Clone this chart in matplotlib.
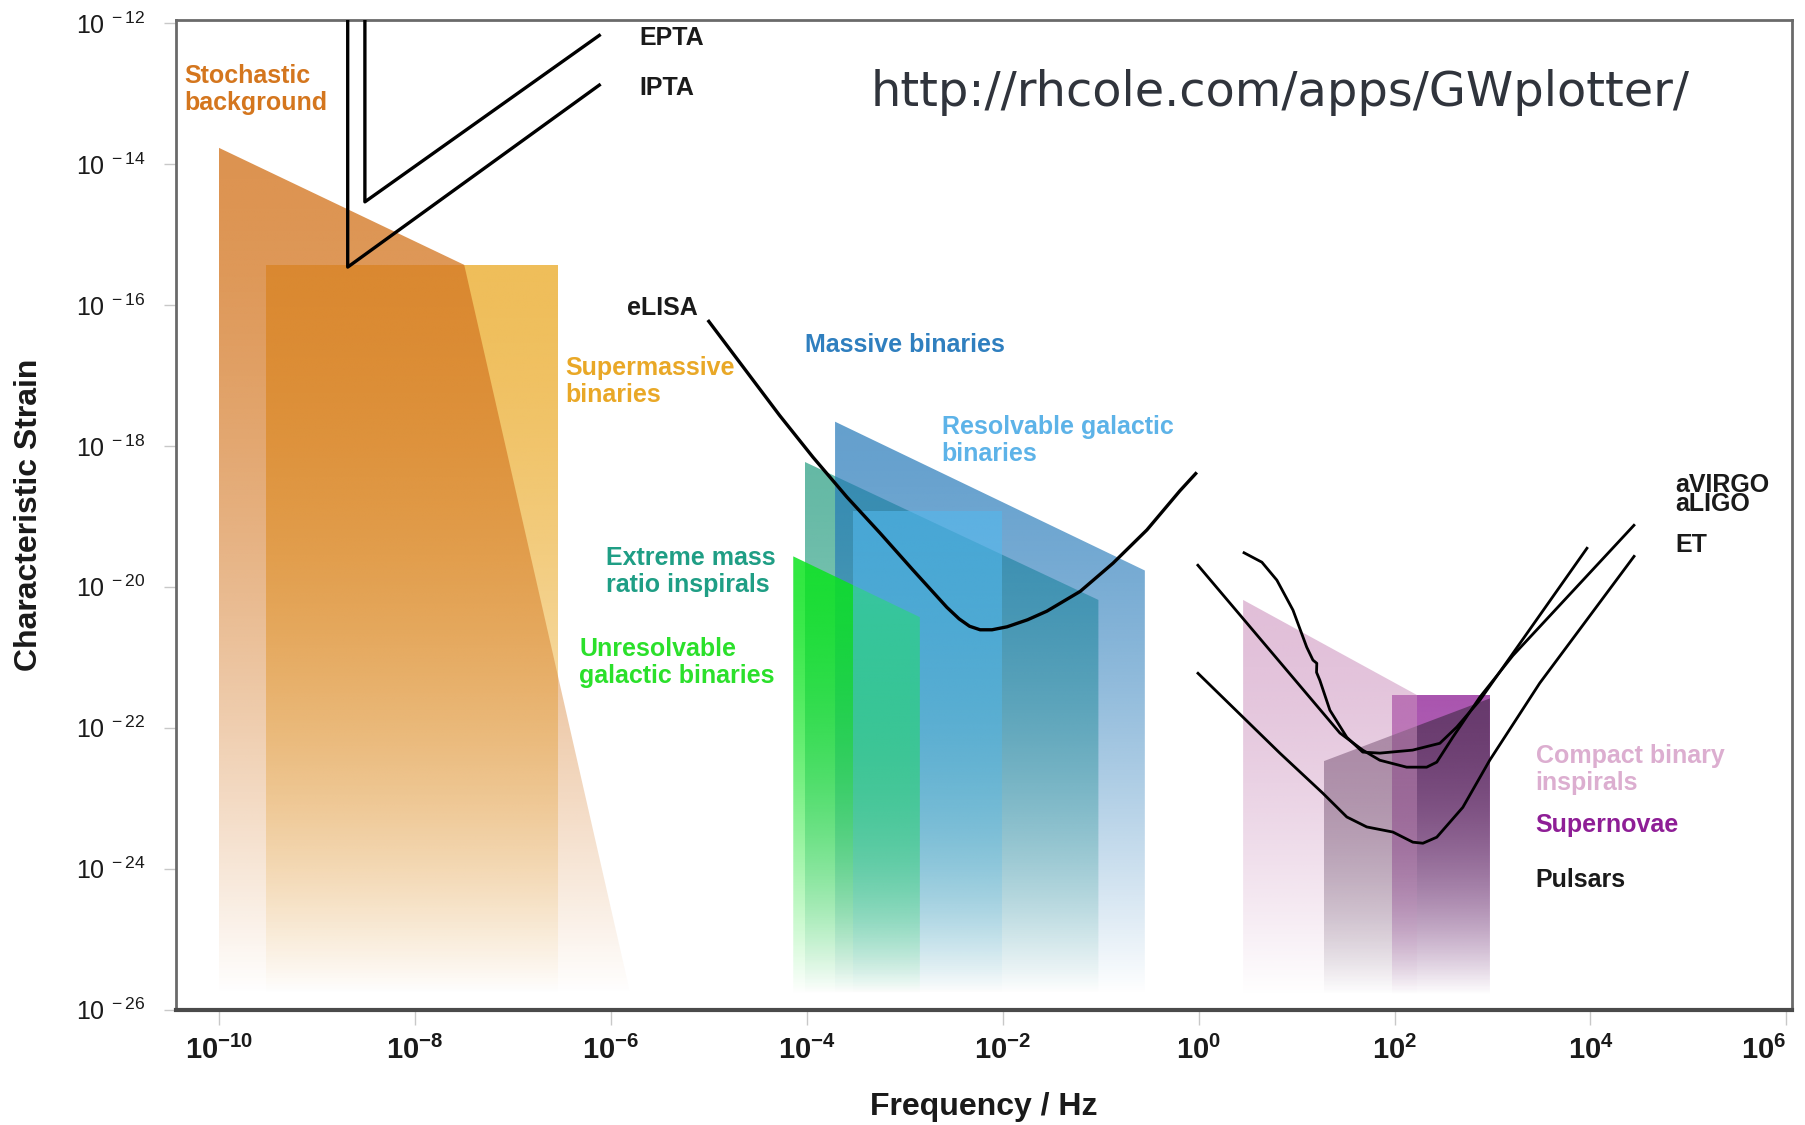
"""
Gravitational-wave spectrum sketch: source regions and detector curves
in the characteristic strain / frequency plane.
"""

import numpy as np
import matplotlib
matplotlib.use("Agg")
import matplotlib.pyplot as plt
from matplotlib.patches import Polygon

plt.rcParams["font.family"] = ["Liberation Sans", "DejaVu Sans"]
plt.rcParams["mathtext.fontset"] = "custom"
plt.rcParams["mathtext.rm"] = "Liberation Sans"
plt.rcParams["mathtext.bf"] = "Liberation Sans:bold"
plt.rcParams["mathtext.it"] = "Liberation Sans:italic"

# ---- source regions: corners as (frequency / Hz, characteristic strain) ----
h_floor = 1.6e-26

stochastic_f = [1e-10, 3.2e-8, 1.6e-6, 1e-10]
stochastic_h = [1.7e-14, 3.7e-16, h_floor, h_floor]

supermassive_f = [3.0e-10, 2.9e-7, 2.9e-7, 3.0e-10]
supermassive_h = [3.7e-16, 3.7e-16, h_floor, h_floor]

massive_f = [1.95e-4, 0.283, 0.283, 1.95e-4]
massive_h = [2.2e-18, 1.7e-20, h_floor, h_floor]

emri_f = [9.6e-5, 0.095, 0.095, 9.6e-5]
emri_h = [5.9e-19, 6.5e-21, h_floor, h_floor]

resolvable_f = [3.0e-4, 9.8e-3, 9.8e-3, 3.0e-4]
resolvable_h = [1.2e-19, 1.2e-19, h_floor, h_floor]

unresolvable_f = [7.3e-5, 1.43e-3, 1.43e-3, 7.3e-5]
unresolvable_h = [2.7e-20, 3.7e-21, h_floor, h_floor]

compact_f = [2.85, 170, 170, 2.85]
compact_h = [6.5e-21, 2.9e-22, h_floor, h_floor]

supernova_f = [95, 940, 940, 95]
supernova_h = [2.9e-22, 2.9e-22, h_floor, h_floor]

pulsar_f = [19, 940, 940, 19]
pulsar_h = [3.35e-23, 2.6e-22, h_floor, h_floor]

# ---- detector sensitivity curves ----
epta_f = [3.1e-9, 3.1e-9, 7.9e-7]
epta_h = [1e-11, 2.9e-15, 6.9e-13]

ipta_f = [2.07e-9, 2.07e-9, 7.9e-7]
ipta_h = [1e-11, 3.44e-16, 1.36e-13]

elisa_f = [9.8e-6, 5.3e-5, 1.16e-4, 2.58e-4, 5.6e-4, 1.22e-3, 2.7e-3, 3.6e-3, 4.6e-3,
           5.9e-3, 7.8e-3, 1.11e-2, 1.8e-2, 2.83e-2, 6.2e-2, 0.134, 0.297, 0.645, 0.96]
elisa_h = [6.1e-17, 2.7e-18, 6.9e-19, 1.87e-19, 5.8e-20, 1.72e-20, 5.1e-21, 3.5e-21, 2.75e-21,
           2.45e-21, 2.45e-21, 2.7e-21, 3.4e-21, 4.5e-21, 8.6e-21, 2.16e-20, 6.4e-20, 2.3e-19,
           4.2e-19]

avirgo_f = [2.83, 4.43, 6.3, 9.2, 12.7, 14.7, 16.1, 16.0, 17.3, 21.9, 32.6, 47.4,
            70.8, 153, 290, 432, 743, 3040, 9380]
avirgo_h = [3.1e-20, 2.23e-20, 1.24e-20, 4.66e-21, 1.39e-21, 9.1e-22, 8.2e-22, 6.1e-22,
            4.7e-22, 1.77e-22, 7.3e-23, 4.5e-23, 4.35e-23, 4.8e-23, 6.0e-23, 1.02e-22,
            2.45e-22, 3.95e-21, 3.65e-20]

aligo_f = [0.964, 27.7, 47.4, 70.8, 133, 213, 270, 393, 743, 1610, 28400]
aligo_h = [2.09e-20, 8.4e-23, 4.8e-23, 3.45e-23, 2.75e-23, 2.75e-23, 3.24e-23,
           7.3e-23, 2.71e-22, 1.05e-21, 7.7e-20]

et_f = [0.964, 6.76, 18.6, 32.6, 52.1, 96.2, 154, 195, 270, 498, 938, 3040, 28400]
et_h = [6.1e-22, 4.35e-23, 1.17e-23, 5.4e-24, 3.9e-24, 3.3e-24, 2.37e-24, 2.29e-24,
        2.79e-24, 7.4e-24, 3.46e-23, 4.3e-22, 2.8e-20]

x_ticks = [1e-10, 1e-8, 1e-6, 1e-4, 1e-2, 1e0, 1e2, 1e4, 1e6]
x_exps = [-10, -8, -6, -4, -2, 0, 2, 4, 6]
y_ticks = [1e-26, 1e-24, 1e-22, 1e-20, 1e-18, 1e-16, 1e-14, 1e-12]
y_exps = [-26, -24, -22, -20, -18, -16, -14, -12]


def fade_fill(ax, f, h, rgb, alpha, z):
    """
    Fill the polygon (f, h) with a colour that fades out towards the bottom.
    The gradient is an image laid in axes coordinates and clipped to the polygon.
    """
    to_axes = ax.transScale + ax.transLimits
    pts = to_axes.transform(np.column_stack([f, h]))
    x0, x1 = pts[:, 0].min(), pts[:, 0].max()
    y0, y1 = pts[:, 1].min(), pts[:, 1].max()

    t = np.linspace(0.0, 1.0, 400)
    img = np.zeros((400, 2, 4))
    img[..., :3] = np.array(rgb) / 255.0
    img[..., 3] = (alpha * (1.0 - t ** 1.6))[:, None]

    im = ax.imshow(img, extent=[x0, x1, y0, y1], transform=ax.transAxes,
                   origin="upper", aspect="auto", interpolation="bilinear", zorder=z)
    poly = Polygon(np.column_stack([f, h]), closed=True, transform=ax.transData,
                   facecolor="none", edgecolor="none")
    im.set_clip_path(poly)


fig = plt.figure(figsize=(18.05, 11.25), dpi=100)
ax = fig.add_axes([176 / 1805, 1 - 1009.5 / 1125, 1616 / 1805, 989.9 / 1125])
ax.set_xscale("log")
ax.set_yscale("log")
xlim = (3.66e-11, 1.14e6)
ylim = (1e-26, 1.12e-12)
ax.set_xlim(*xlim)
ax.set_ylim(*ylim)
ax.set_autoscale_on(False)

# Source regions (order matters for how the overlaps mix)
fade_fill(ax, supermassive_f, supermassive_h, (238, 184, 75), 0.92, 1)
fade_fill(ax, stochastic_f, stochastic_h, (212, 120, 36), 0.8, 2)
fade_fill(ax, emri_f, emri_h, (34, 155, 126), 0.7, 3)
fade_fill(ax, massive_f, massive_h, (34, 119, 184), 0.7, 4)
fade_fill(ax, unresolvable_f, unresolvable_h, (10, 228, 30), 0.85, 5)
fade_fill(ax, resolvable_f, resolvable_h, (83, 185, 238), 0.6, 6)
fade_fill(ax, supernova_f, supernova_h, (160, 66, 166), 0.9, 7)
fade_fill(ax, pulsar_f, pulsar_h, (60, 40, 65), 0.6, 8)
fade_fill(ax, compact_f, compact_h, (205, 148, 191), 0.6, 9)

# Detector curves
for f, h, lw in [(epta_f, epta_h, 2.4), (ipta_f, ipta_h, 2.4), (elisa_f, elisa_h, 2.4),
                 (avirgo_f, avirgo_h, 2.0), (aligo_f, aligo_h, 2.0), (et_f, et_h, 2.0)]:
    ax.plot(f, h, color="black", lw=lw, zorder=10, solid_joinstyle="round",
            solid_capstyle="butt")

ax.set_xlim(*xlim)
ax.set_ylim(*ylim)

# Axes, ticks and labels
ax.set_xticks(x_ticks)
ax.set_xticklabels([r"$\mathbf{10^{%d}}$" % e for e in x_exps])
ax.get_xticklabels()[-1].set_ha("right")  # keep the last label inside the figure
ax.set_yticks(y_ticks)
ax.set_yticklabels([r"$\mathregular{10^{\ %d}}$" % e for e in y_exps])
ax.minorticks_off()
ax.tick_params(axis="x", length=11, width=1, color="#c8c8c8", pad=8,
               labelsize=21, labelcolor="#1a1a1a")
ax.tick_params(axis="y", length=8.6, width=1, color="#c8c8c8", pad=13,
               labelsize=18, labelcolor="#1a1a1a")
for side in ["left", "right", "top"]:
    ax.spines[side].set_color("#6a6a6a")
    ax.spines[side].set_linewidth(2)
ax.spines["bottom"].set_color("#4a4a4a")
ax.spines["bottom"].set_linewidth(3)

ax.set_xlabel("Frequency / Hz", fontsize=23, fontweight="bold", color="#1a1a1a")
ax.xaxis.label.set_va("center")
ax.xaxis.set_label_coords(0.5, -0.0985)
ax.set_ylabel("Characteristic Strain", fontsize=23, fontweight="bold", color="#1a1a1a")
ax.yaxis.label.set_va("center")
ax.yaxis.set_label_coords(-0.091, 0.5)

# Region and detector labels (axes fractions)
labels = [
    ("Stochastic\nbackground", 0.005, 0.929, "#d4761e", 1.15),
    ("EPTA", 0.2865, 0.9814, "#1a1a1a", 1.15),
    ("IPTA", 0.2865, 0.9314, "#1a1a1a", 1.15),
    ("eLISA", 0.2791, 0.7082, "#1a1a1a", 1.15),
    ("Supermassive\nbinaries", 0.2407, 0.6344, "#e9a827", 1.15),
    ("Massive binaries", 0.389, 0.671, "#2f7fbf", 1.15),
    ("Resolvable galactic\nbinaries", 0.4738, 0.5749, "#5db3e8", 1.15),
    ("Extreme mass\nratio inspirals", 0.2658, 0.4425, "#1f9e85", 1.15),
    ("Unresolvable\ngalactic binaries", 0.2494, 0.3505, "#2be02b", 1.15),
    ("aVIRGO\naLIGO", 0.9276, 0.5205, "#1a1a1a", 0.72),
    ("ET", 0.9276, 0.4697, "#1a1a1a", 1.15),
    ("Compact binary\ninspirals", 0.8413, 0.2424, "#dcaed0", 1.15),
    ("Supernovae", 0.8413, 0.186, "#8e1e96", 1.15),
    ("Pulsars", 0.8413, 0.1313, "#1a1a1a", 1.15),
]
for text, x, y, col, spacing in labels:
    ax.text(x, y, text, transform=ax.transAxes, ha="left", va="center",
            fontsize=18, fontweight="bold", color=col, linespacing=spacing, zorder=12)

fig.text(871 / 1805, 1 - 92 / 1125, "http://rhcole.com/apps/GWplotter/",
         family="DejaVu Sans", fontsize=34.5, color="#30343c", ha="left", va="center")

fig.savefig("out.png", dpi=100)
